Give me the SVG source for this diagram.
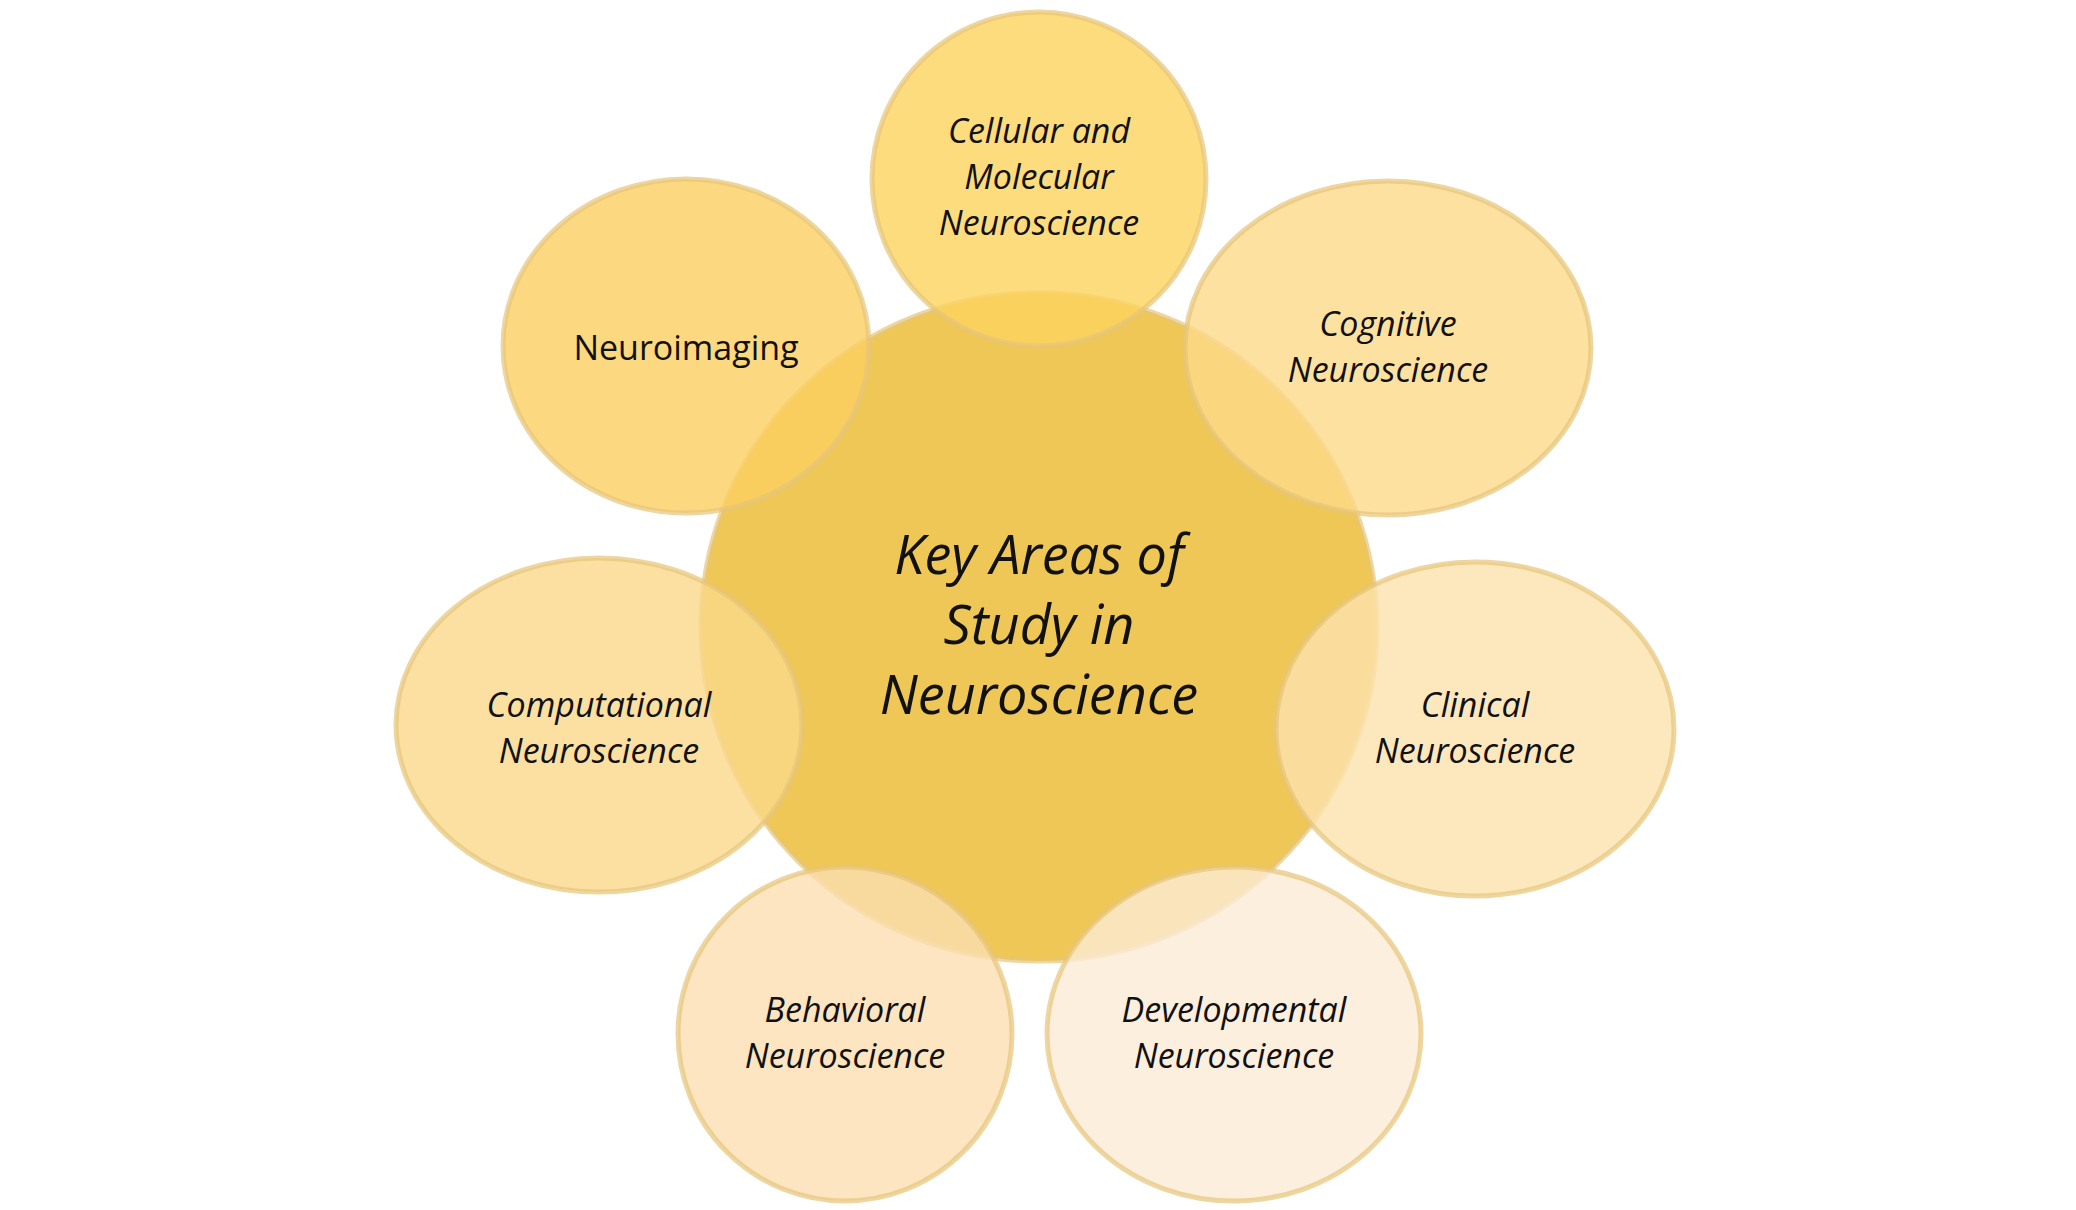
<svg xmlns="http://www.w3.org/2000/svg" width="2076" height="1210" viewBox="0 0 2076 1210">
<style>
.n{stroke:#E6C479;stroke-width:5;stroke-opacity:0.7}
.t{font-family:"Open Sans","Liberation Sans",sans-serif;font-style:italic;font-size:34px;fill:#111;text-anchor:middle}
.c{font-size:54px}
</style>
<rect width="2076" height="1210" fill="#fff"/>
<g transform="translate(-14,-4)">
<g id="center"><ellipse class="n" cx="1053" cy="631" rx="338" ry="334" fill="#EEC44E" fill-opacity="0.95"/>
<text class="t c" x="1053" y="578">Key Areas of</text><text class="t c" x="1053" y="648">Study in</text><text class="t c" x="1053" y="718">Neuroscience</text></g>
<g id="cellular"><ellipse class="n" cx="1053" cy="183" rx="167" ry="167" fill="#FDD35E" fill-opacity="0.8"/>
<text class="t" x="1053" y="147">Cellular and</text><text class="t" x="1053" y="193">Molecular</text><text class="t" x="1053" y="239">Neuroscience</text></g>
<g id="neuroimaging"><ellipse class="n" cx="700" cy="350" rx="183" ry="167" fill="#FBD060" fill-opacity="0.8"/>
<text class="t" x="700" y="364" style="font-style:normal">Neuroimaging</text></g>
<g id="cognitive"><ellipse class="n" cx="1402" cy="352" rx="203" ry="167" fill="#FCD98A" fill-opacity="0.8"/>
<text class="t" x="1402" y="340">Cognitive</text><text class="t" x="1402" y="386">Neuroscience</text></g>
<g id="computational"><ellipse class="n" cx="613" cy="729" rx="203" ry="167" fill="#FAD889" fill-opacity="0.8"/>
<text class="t" x="613" y="721">Computational</text><text class="t" x="613" y="767">Neuroscience</text></g>
<g id="clinical"><ellipse class="n" cx="1489" cy="733" rx="199" ry="167" fill="#FDE2AE" fill-opacity="0.8"/>
<text class="t" x="1489" y="721">Clinical</text><text class="t" x="1489" y="767">Neuroscience</text></g>
<g id="behavioral"><ellipse class="n" cx="859" cy="1038" rx="167" ry="167" fill="#FBDFB0" fill-opacity="0.8"/>
<text class="t" x="859" y="1026">Behavioral</text><text class="t" x="859" y="1072">Neuroscience</text></g>
<g id="developmental"><ellipse class="n" cx="1248" cy="1038" rx="187" ry="167" fill="#FDEBD6" fill-opacity="0.8"/>
<text class="t" x="1248" y="1026">Developmental</text><text class="t" x="1248" y="1072">Neuroscience</text></g>
</g>
<g id="connectors"/>
</svg>
